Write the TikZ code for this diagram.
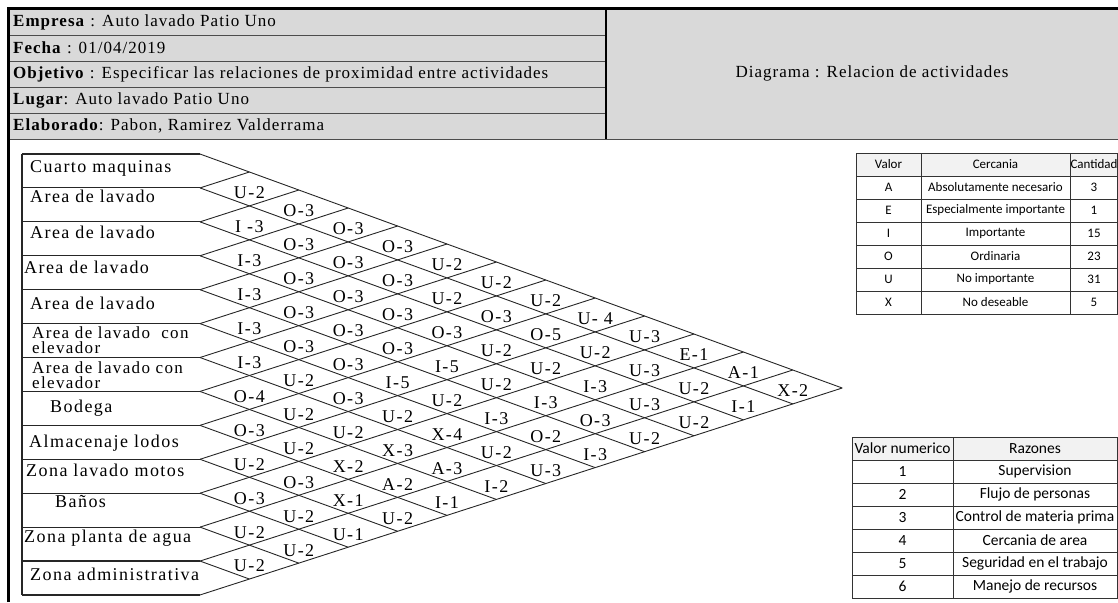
\documentclass[tikz,border=0pt]{standalone}
\usepackage{fontspec}
\setmainfont{Liberation Serif}
\newfontfamily\hdrfont[LetterSpace=6]{Liberation Serif}
\newfontfamily\actfont[LetterSpace=8]{Liberation Serif}
\newfontfamily\tabfont{Carlito}
\definecolor{HdrGray}{HTML}{D9D9D9}
\definecolor{TabGray}{HTML}{F2F2F2}
\tikzset{
  frame/.style={line width=3pt},
  hdrrule/.style={draw=black!70,line width=0.8pt},
  hdrtext/.style={anchor=west,inner sep=0pt,font=\hdrfont\fontsize{17}{18}\selectfont},
  actlabel/.style={anchor=base west,inner sep=0pt,align=left,font=\actfont\fontsize{18}{16.5}\selectfont},
  twolines/.style={actlabel,anchor=west,font=\actfont\fontsize{17}{15}\selectfont},
  gridline/.style={draw=black!85,line width=0.9pt},
  rel/.style={inner sep=0pt,font=\actfont\fontsize{18}{18}\selectfont},
  tabrule/.style={draw=black!80,line width=0.8pt},
  tabsmall/.style={inner sep=0pt,font=\tabfont\fontsize{13}{14}\selectfont},
  tabbig/.style={inner sep=0pt,font=\tabfont\fontsize{15.5}{17}\selectfont}
}
% chart geometry (pt = px)
\def\rowh{33.92}
\def\colw{49.4}
\def\dn{18}
\def\up{15.92}

\begin{document}
\begin{tikzpicture}[x=1pt,y=-1pt]
  \useasboundingbox (0,0) rectangle (1118,602);

  % header block
  \fill[HdrGray] (8,9) rectangle (1118,139);
  \foreach \y in {35,61,87,113} \draw[hdrrule] (8,\y) -- (606,\y);
  \draw[hdrrule] (8,139) -- (1118,139);
  \draw[line width=1.4pt] (606,9) -- (606,139);
  \draw[frame] (8,602) -- (8,9) -- (1118,9);
  \node[hdrtext] (empresa) at (13,22) {\textbf{Empresa} : Auto lavado Patio Uno};
  \node[hdrtext] (fecha) at (13,48) {\textbf{Fecha} : 01/04/2019};
  \node[hdrtext] (objetivo) at (13,74) {\textbf{Objetivo} : Especificar las relaciones de proximidad entre actividades};
  \node[hdrtext] (lugar) at (13,100) {\textbf{Lugar}: Auto lavado Patio Uno};
  \node[hdrtext] (elaborado) at (13,126) {\textbf{Elaborado}: Pabon, Ramirez Valderrama};
  \node[hdrtext,anchor=center] (titulo) at (872,73) {Diagrama : Relacion de actividades};

  % activity boxes and diamond grid
  \draw[gridline,line width=1.1pt] (22,154) -- (22,{154+13*\rowh});
  \foreach \k in {0,...,13} {
    \coordinate (b\k) at (200,{154+\k*\rowh});
    \draw[gridline,line width=1.1pt] (22,{154+\k*\rowh}) -- (b\k);
  }
  \foreach \k in {0,...,12} \draw[gridline] (b\k) -- ++({(13-\k)*\colw},{(13-\k)*\dn});
  \foreach \m in {1,...,13} \draw[gridline] (b\m) -- ++({\m*\colw},{-\m*\up});

  \node[actlabel] (act1) at (30,172) {Cuarto maquinas};
  \node[actlabel] (act2) at (30,202) {Area de lavado};
  \node[actlabel] (act3) at (30,238) {Area de lavado};
  \node[actlabel] (act4) at (24,273) {Area de lavado};
  \node[actlabel] (act5) at (30,309) {Area de lavado};
  \node[twolines] (act6) at (32,340.5) {Area de lavado\ \ con\\elevador};
  \node[twolines] (act7) at (32,375.5) {Area de lavado con\\elevador};
  \node[actlabel] (act8) at (50,412) {Bodega};
  \node[actlabel] (act9) at (29,447) {Almacenaje lodos};
  \node[actlabel] (act10) at (26,476) {Zona lavado motos};
  \node[actlabel] (act11) at (55,507) {Baños};
  \node[actlabel] (act12) at (24,542) {Zona planta de agua};
  \node[actlabel] (act13) at (30,580) {Zona administrativa};

  \foreach \i/\j/\t in {
    1/2/U-2, 1/3/O-3, 1/4/O-3, 1/5/O-3, 1/6/U-2, 1/7/U-2, 1/8/U-2, 1/9/U- 4, 1/10/U-3, 1/11/E-1, 1/12/A-1, 1/13/X-2,
    2/3/I -3, 2/4/O-3, 2/5/O-3, 2/6/O-3, 2/7/U-2, 2/8/O-3, 2/9/O-5, 2/10/U-2, 2/11/U-3, 2/12/U-2, 2/13/I-1,
    3/4/I-3, 3/5/O-3, 3/6/O-3, 3/7/O-3, 3/8/O-3, 3/9/U-2, 3/10/U-2, 3/11/I-3, 3/12/U-3, 3/13/U-2,
    4/5/I-3, 4/6/O-3, 4/7/O-3, 4/8/O-3, 4/9/I-5, 4/10/U-2, 4/11/I-3, 4/12/O-3, 4/13/U-2,
    5/6/I-3, 5/7/O-3, 5/8/O-3, 5/9/I-5, 5/10/U-2, 5/11/I-3, 5/12/O-2, 5/13/I-3,
    6/7/I-3, 6/8/U-2, 6/9/O-3, 6/10/U-2, 6/11/X-4, 6/12/U-2, 6/13/U-3,
    7/8/O-4, 7/9/U-2, 7/10/U-2, 7/11/X-3, 7/12/A-3, 7/13/I-2,
    8/9/O-3, 8/10/U-2, 8/11/X-2, 8/12/A-2, 8/13/I-1,
    9/10/U-2, 9/11/O-3, 9/12/X-1, 9/13/U-2,
    10/11/O-3, 10/12/U-2, 10/13/U-1,
    11/12/U-2, 11/13/U-2,
    12/13/U-2}
    \node[rel] (r\i-\j) at ({200+(\j-\i)*\colw},{154+(\i-0.5)*\rowh+(\j-\i)*\dn+4}) {\t};

  % closeness table
  \fill[TabGray] (856,153) rectangle (1118,176);
  \foreach \k in {0,...,7} \draw[tabrule] (856,{153+23*\k}) -- (1118,{153+23*\k});
  \foreach \x in {856,921,1070,1117} \draw[tabrule] (\x,153) -- (\x,314);
  \node[tabsmall] (valorh) at (888.5,164.5) {Valor};
  \node[tabsmall] (cercaniah) at (995.5,164.5) {Cercania};
  \node[tabsmall] (cantidadh) at (1094,164.5) {Cantidad};
  \foreach \v/\c/\q [count=\r] in {A/Absolutamente necesario/3, E/Especialmente importante/1,
      I/Importante/15, O/Ordinaria/23, U/No importante/31, X/No deseable/5} {
    \node[tabsmall] (val\r) at (888.5,{164.5+23*\r}) {\v};
    \node[tabsmall] (cer\r) at (995.5,{164.5+23*\r}) {\c};
    \node[tabsmall] (cant\r) at (1094,{164.5+23*\r}) {\q};
  }

  % reasons table
  \fill[TabGray] (852,437) rectangle (1118,460);
  \foreach \k in {0,...,7} \draw[tabrule] (852,{437+23*\k}) -- (1118,{437+23*\k});
  \foreach \x in {852,953,1117} \draw[tabrule] (\x,437) -- (\x,598);
  \node[tabbig] (numh) at (902.5,448.5) {Valor numerico};
  \node[tabbig] (razonh) at (1035,448.5) {Razones};
  \foreach \n/\t in {1/Supervision, 2/Flujo de personas, 3/Control de materia prima,
      4/Cercania de area, 5/Seguridad en el trabajo, 6/Manejo de recursos} {
    \node[tabbig] (num\n) at (902.5,{448.5+23*\n}) {\n};
    \node[tabbig] (razon\n) at (1035,{448.5+23*\n}) {\t};
  }
\end{tikzpicture}
\end{document}
